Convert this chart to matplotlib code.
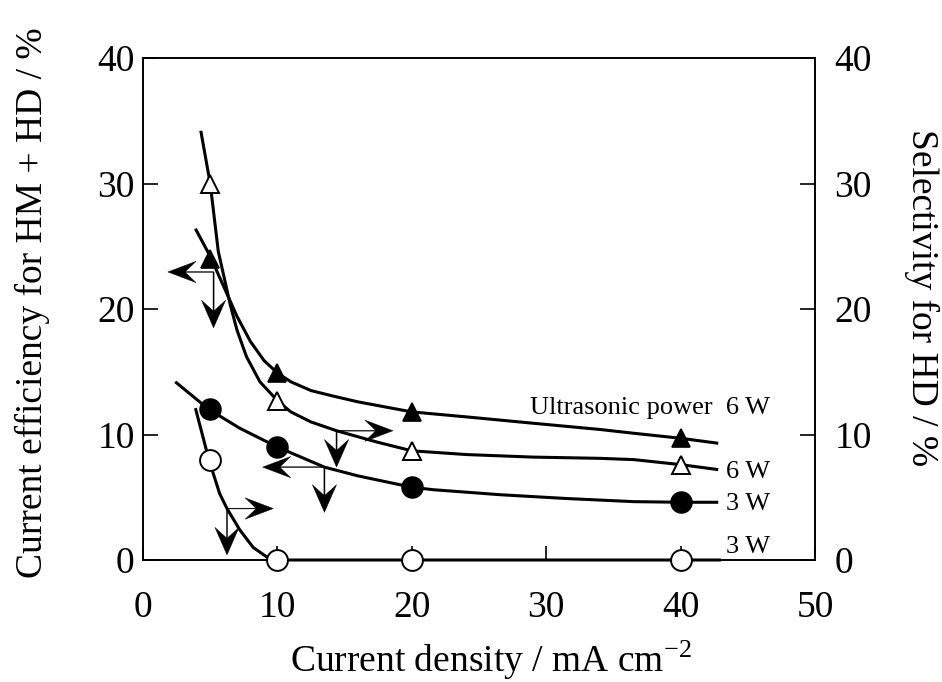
import matplotlib
matplotlib.use("Agg")
import matplotlib.pyplot as plt

plt.rcParams['font.family'] = ['Liberation Serif', 'DejaVu Serif']
plt.rcParams['mathtext.fontset'] = 'stix'

# ---- data ----
current_density = [5, 10, 20, 40]
ce_6w = [24.0, 14.9, 11.8, 9.7]        # filled triangles
sel_6w = [30.0, 12.7, 8.7, 7.6]        # open triangles
ce_3w = [12.0, 9.0, 5.8, 4.6]          # filled circles
sel_3w = [8.0, 0.0, 0.0, 0.0]          # open circles

# hand-drawn fitted curves
ce_6w_curve_x = [3.9, 5.0, 6.0, 7.0, 8.0, 9.0, 10.0, 11.0, 12.5, 14.0, 16.0, 20.0, 24.1, 29.0, 34.0, 36.5, 40.0, 42.8]
ce_6w_curve_y = [26.4, 24.2, 21.8, 19.4, 17.4, 15.9, 14.9, 14.2, 13.5, 13.1, 12.6, 11.8, 11.4, 10.9, 10.4, 10.1, 9.7, 9.3]
sel_6w_curve_x = [4.3, 5.0, 5.6, 6.5, 7.0, 7.7, 8.7, 10.0, 11.0, 12.5, 14.4, 17.4, 20.0, 24.1, 29.0, 34.0, 36.5, 40.0, 42.8]
sel_6w_curve_y = [34.2, 30.0, 24.6, 20.3, 18.3, 16.2, 14.2, 12.7, 11.8, 11.0, 10.3, 9.4, 8.7, 8.4, 8.2, 8.1, 8.0, 7.6, 7.2]
ce_3w_curve_x = [2.4, 4.9, 7.2, 10.0, 13.5, 16.0, 20.0, 21.6, 26.6, 31.5, 36.5, 40.0, 42.8]
ce_3w_curve_y = [14.2, 12.0, 10.5, 9.0, 7.4, 6.7, 5.8, 5.6, 5.2, 4.9, 4.65, 4.6, 4.6]
sel_3w_curve_x = [3.9, 4.9, 5.7, 6.25, 7.2, 8.2, 9.2, 10.0, 20.0, 40.0, 43.0]
sel_3w_curve_y = [12.1, 8.0, 5.3, 4.1, 2.4, 1.0, 0.25, 0.0, 0.0, 0.0, 0.0]

# axis-indicator arrows: corner point, horizontal tip x, vertical tip y
arrow_corner_x = [5.25, 13.5, 14.4, 6.25]
arrow_corner_y = [22.95, 7.4, 10.3, 4.1]
arrow_htip_x = [1.85, 8.9, 18.6, 9.7]
arrow_vtip_y = [18.5, 3.8, 7.4, 0.4]

x_ticks = [0, 10, 20, 30, 40, 50]
y_ticks = [0, 10, 20, 30, 40]

fig = plt.figure(figsize=(9.42, 6.82), dpi=100)
ax = fig.add_axes([143/942, 1-560/682, 672/942, 502/682])
ax2 = ax.twinx()

lw = 2.2
ax.plot(ce_6w_curve_x, ce_6w_curve_y, color='black', lw=lw, solid_capstyle='butt')
ax2.plot(sel_6w_curve_x, sel_6w_curve_y, color='black', lw=lw, solid_capstyle='butt')
ax.plot(ce_3w_curve_x, ce_3w_curve_y, color='black', lw=lw, solid_capstyle='butt')
ax2.plot(sel_3w_curve_x, sel_3w_curve_y, color='black', lw=lw, solid_capstyle='butt', clip_on=False)

ax.plot(current_density, ce_6w, ls='none', marker='^', ms=13, mfc='black', mec='black', mew=1.2, zorder=5)
ax2.plot(current_density, sel_6w, ls='none', marker='^', ms=13, mfc='white', mec='black', mew=1.4, zorder=5)
ax.plot(current_density, ce_3w, ls='none', marker='o', ms=15, mfc='black', mec='black', mew=1.2, zorder=5)
ax2.plot(current_density, sel_3w, ls='none', marker='o', ms=15, mfc='white', mec='black', mew=1.4, zorder=5, clip_on=False)

for cx, cy, hx, vy in zip(arrow_corner_x, arrow_corner_y, arrow_htip_x, arrow_vtip_y):
    ax.arrow(cx, cy, hx - cx, 0, width=0.06, head_width=1.7, head_length=2.1,
             overhang=0.38, length_includes_head=True, color='black', lw=0.3, zorder=6)
    ax.arrow(cx, cy, 0, vy - cy, width=0.08, head_width=1.8, head_length=2.2,
             overhang=0.38, length_includes_head=True, color='black', lw=0.3, zorder=6)

ax.text(46.65, 12.1, 'Ultrasonic power  6 W', ha='right', va='center', fontsize=19)
ax.text(46.65, 7.0, '6 W', ha='right', va='center', fontsize=19)
ax.text(46.65, 4.5, '3 W', ha='right', va='center', fontsize=19)
ax.text(46.65, 1.0, '3 W', ha='right', va='center', fontsize=19)

for a in (ax, ax2):
    a.set_xlim(0, 50)
    a.set_ylim(0, 40)
    a.set_yticks(y_ticks)
    for s in a.spines.values():
        s.set_linewidth(1.2)
ax.set_xticks(x_ticks)
ax.tick_params(axis='x', direction='in', length=10, width=1.2, labelsize=27, pad=22, top=False)
ax.tick_params(axis='y', direction='in', length=11, width=1.2, labelsize=27, pad=6)
ax2.tick_params(axis='y', direction='in', length=11, width=1.2, labelsize=27, pad=14)

ax.set_xlabel('Current density / mA cm$^{\\mathregular{-2}}$', fontsize=27)
ax.xaxis.set_label_coords(0.518, -0.158)
ax.set_ylabel('Current efficiency for HM + HD / %', fontsize=27, va='center')
ax.yaxis.set_label_coords(-0.165, 0.513)
ax2.set_ylabel('Selectivity for HD / %', fontsize=27, rotation=270, va='center', ha='center')
ax2.yaxis.set_label_coords(1.158, 0.523)

fig.savefig('out.png', dpi=100)
